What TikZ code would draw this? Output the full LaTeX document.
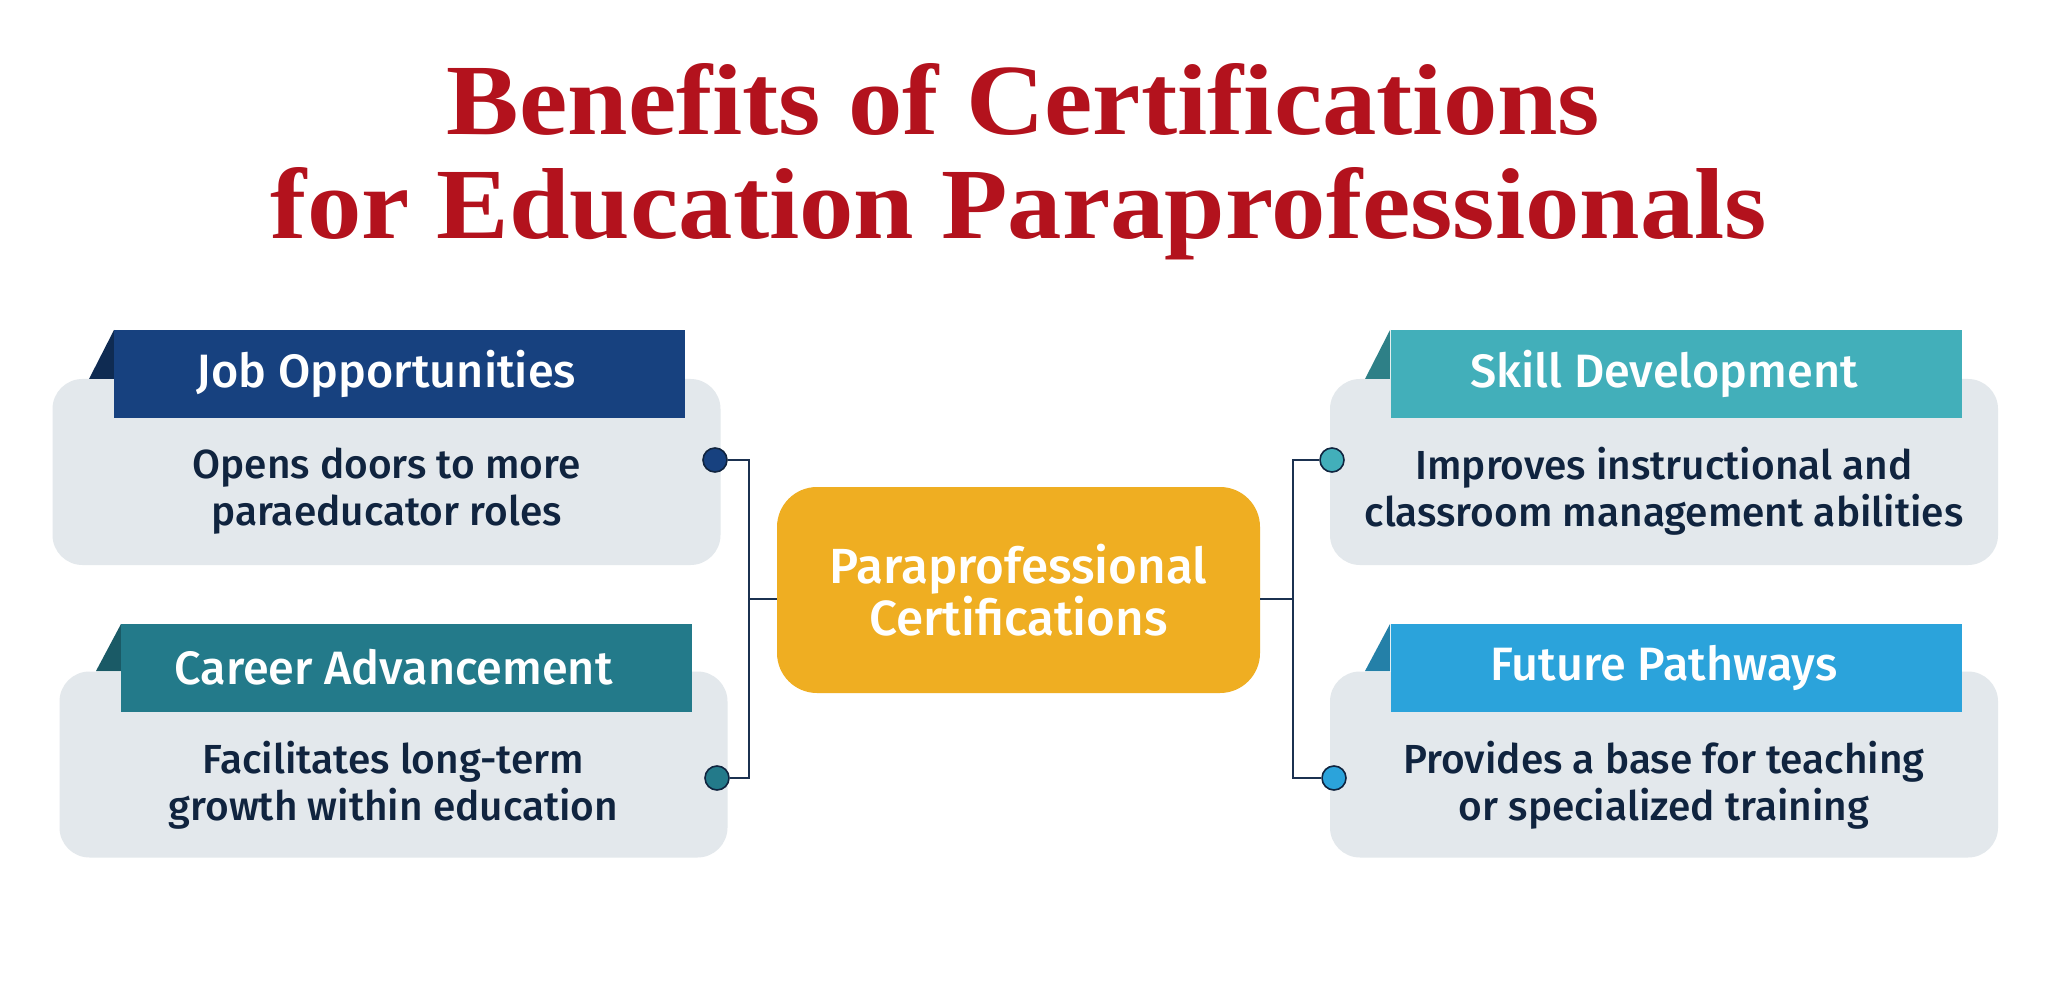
\documentclass[tikz,border=0pt]{standalone}
\usepackage{fontspec}
\usepackage{graphicx}
\setmainfont{Fira Sans}
\newfontfamily\medfont{Fira Sans Medium}
\newfontfamily\titlefont{Liberation Serif}
\definecolor{titlered}{HTML}{B3121D}
\definecolor{cardgrey}{HTML}{E3E8EC}
\definecolor{navytext}{HTML}{10243F}
\definecolor{linecol}{HTML}{1B3150}
\definecolor{cA}{HTML}{17417F}\definecolor{cAd}{HTML}{0F2B52}
\definecolor{cB}{HTML}{237A8A}\definecolor{cBd}{HTML}{1A5A66}
\definecolor{cC}{HTML}{42AFBA}\definecolor{cCd}{HTML}{2E8087}
\definecolor{cD}{HTML}{2BA3DB}\definecolor{cDd}{HTML}{2480A8}
\definecolor{centre}{HTML}{EFAE22}
\tikzset{
  cardbox/.style={fill=cardgrey, draw=none, rounded corners=15pt, inner sep=0pt,
    minimum width=334pt, minimum height=93pt},
  tabbox/.style={fill=#1, draw=none, inner sep=0pt, minimum width=285.5pt, minimum height=44pt},
  tabtext/.style={text=white, inner sep=0pt, font=\medfont\fontsize{23.4}{26}\selectfont},
  bodytext/.style={text=navytext, align=center, inner sep=0pt,
    font=\medfont\fontsize{20.3}{23.5}\selectfont},
  dotnode/.style={circle, fill=#1, draw=navytext, line width=0.8pt, minimum size=12pt, inner sep=0pt},
  conn/.style={draw=linecol, line width=1.25pt},
  centrebox/.style={fill=centre, draw=none, rounded corners=20pt, inner sep=0pt,
    minimum width=241.5pt, minimum height=103pt, text=white, align=center,
    font=\medfont\fontsize{24.7}{24.5}\selectfont},
  titletext/.style={text=titlered, inner sep=0pt, anchor=base}
}
\begin{document}
\begin{tikzpicture}[x=0.5pt,y=-0.5pt]
\useasboundingbox[fill=white] (0,0) rectangle (2048,983);
% title
\node[titletext] (title1) at (1023.5,135) {\resizebox{576.5pt}{35.5pt}{\titlefont\bfseries Benefits of Certifications}};
\node[titletext] (title2) at (1019,239) {\resizebox{748pt}{35.5pt}{\titlefont\bfseries for Education Paraprofessionals}};
% cards
\node[cardbox] (cardA) at (386.5,472) {};
\node[cardbox] (cardB) at (393.5,764.5) {};
\node[cardbox] (cardC) at (1664,472) {};
\node[cardbox] (cardD) at (1664,764.5) {};
% folds
\fill[cAd] (114,330) -- (89,379) -- (114,379) -- cycle;
\fill[cBd] (121,624) -- (96,671) -- (121,671) -- cycle;
\fill[cCd] (1390,330) -- (1365,379) -- (1390,379) -- cycle;
\fill[cDd] (1390,624) -- (1365,671) -- (1390,671) -- cycle;
% tabs
\node[tabbox=cA] (tabA) at (399,374) {};
\node[tabbox=cB] (tabB) at (406.5,667.5) {};
\node[tabbox=cC] (tabC) at (1676,374) {};
\node[tabbox=cD] (tabD) at (1676,667.5) {};
\node[tabtext] (headA) at (cardA |- tabA) {Job Opportunities};
\node[tabtext] (headB) at (cardB |- tabB) {Career Advancement};
\node[tabtext] (headC) at (cardC |- tabC) {Skill Development};
\node[tabtext] (headD) at (cardD |- tabD) {Future Pathways};
% body texts
\node[bodytext] (bodyA) at (386.5,491) {Opens doors to more\\paraeducator roles};
\node[bodytext] (bodyB) at (393.5,785) {Facilitates long-term\\growth within education};
\node[bodytext] (bodyC) at (1664,491) {Improves instructional and\\classroom management abilities};
\node[bodytext] (bodyD) at (1664,785) {Provides a base for teaching\\or specialized training};
% centre
\node[centrebox] (centre) at (1018.5,590) {Paraprofessional\\Certifications};
% junctions
\coordinate (jl) at (749,599);
\coordinate (jr) at (1293,599);
% dots
\node[dotnode=cA] (dotA) at (715,460) {};
\node[dotnode=cB] (dotB) at (717,778) {};
\node[dotnode=cC] (dotC) at (1332,460) {};
\node[dotnode=cD] (dotD) at (1334,778) {};
% connectors
\draw[conn] (dotA.east) -| (jl) |- (dotB.east);
\draw[conn] (jl) -- (centre.west |- jl);
\draw[conn] (dotC.west) -| (jr) |- (dotD.west);
\draw[conn] (jr) -- (centre.east |- jr);
\end{tikzpicture}
\end{document}
